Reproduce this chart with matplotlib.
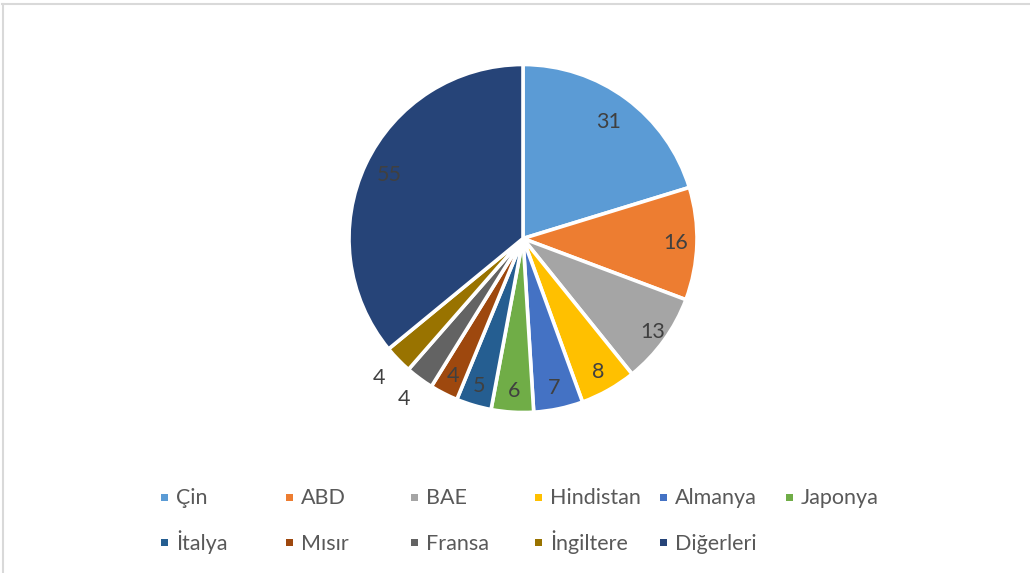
import matplotlib
matplotlib.use("Agg")
import matplotlib.pyplot as plt
from matplotlib.lines import Line2D
from matplotlib.patches import Rectangle
import numpy as np

plt.rcParams['font.family'] = ['Lato', 'DejaVu Sans']

categories = ["Çin", "ABD", "BAE", "Hindistan", "Almanya", "Japonya",
              "İtalya", "Mısır", "Fransa", "İngiltere", "Diğerleri"]
values = [31, 16, 13, 8, 7, 6, 5, 4, 4, 4, 55]
colors = ["#5B9BD5", "#ED7D31", "#A5A5A5", "#FFC000", "#4472C4", "#70AD47",
          "#255E91", "#9E480E", "#636363", "#997300", "#264478"]
label_r = [0.83, 0.88, 0.92, 0.88, 0.88, 0.88, 0.885, 0.885, 1.15, 1.15, 0.85]

W, H = 1030, 573
fig = plt.figure(figsize=(W / 100, H / 100), dpi=100)

cx, cy, r = 523, 238.5, 174
ax = fig.add_axes([(cx - r) / W, (H - cy - r) / H, 2 * r / W, 2 * r / H])
wedges, _ = ax.pie(values, colors=colors, startangle=90, counterclock=False,
                   radius=1, wedgeprops=dict(edgecolor="white", linewidth=2.6))
ax.set_xlim(-1, 1)
ax.set_ylim(-1, 1)
ax.set_aspect("equal")
ax.axis("off")

for w, v, lr in zip(wedges, values, label_r):
    ang = np.deg2rad((w.theta1 + w.theta2) / 2)
    ax.text(lr * np.cos(ang), lr * np.sin(ang), str(v), ha="center", va="center",
            fontsize=15.5, color="#404040")

# legend (manual, uniform column widths as in reference)
col_x = [164, 289, 414, 538, 663, 789]
row_y = [497, 542]
for i, (c, col) in enumerate(zip(categories, colors)):
    x = col_x[i % 6]
    y = row_y[i // 6]
    s = 7
    fig.add_artist(Rectangle(((x - s / 2) / W, (H - y - s / 2) / H), s / W, s / H,
                             transform=fig.transFigure, facecolor=col, edgecolor="none"))
    fig.text((x + 12) / W, (H - y - 7.5) / H, c, ha="left", va="baseline",
             fontsize=15.5, color="#595959")

# frame lines (top and left)
fig.add_artist(Line2D([2 / W, 1], [1 - 4 / H, 1 - 4 / H], transform=fig.transFigure,
                      color="#d9d9d9", linewidth=1.5))
fig.add_artist(Line2D([2.5 / W, 2.5 / W], [0, 1 - 4 / H], transform=fig.transFigure,
                      color="#d9d9d9", linewidth=1.5))

fig.savefig("out.png", dpi=100, facecolor="white")
